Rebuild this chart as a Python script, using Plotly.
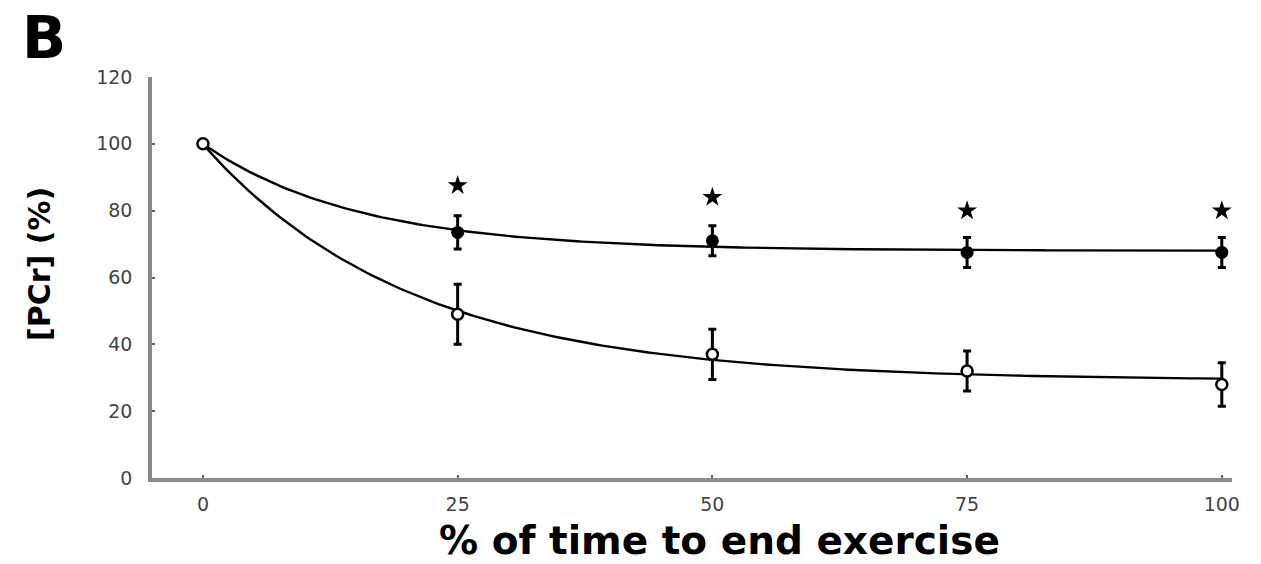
import numpy as np
import plotly.graph_objects as go

time_pct = [0, 25, 50, 75, 100]
pcr_filled = [100, 73.5, 71, 67.5, 67.5]
err_filled = [0, 5, 4.5, 4.5, 4.5]
pcr_open = [100, 49, 37, 32, 28]
err_open = [0, 9, 7.5, 6, 6.5]
star_x = [25, 50, 75, 100]
star_y = [87.5, 84, 80, 80]


def exp_fit(x, y):
    """Least-squares fit of y = a + b*exp(-k x) (the smooth curves of the original figure)."""
    x = np.asarray(x, float)
    y = np.asarray(y, float)
    best = None
    for k in np.linspace(0.005, 0.3, 600):
        A = np.column_stack([np.ones_like(x), np.exp(-k * x)])
        coef, *_ = np.linalg.lstsq(A, y, rcond=None)
        sse = np.sum((A @ coef - y) ** 2)
        if best is None or sse < best[0]:
            best = (sse, k, coef)
    _, k, (a, b) = best
    xs = np.linspace(min(x), max(x), 200)
    return xs, a + b * np.exp(-k * xs)


fx, fy = exp_fit(time_pct, pcr_filled)
ox, oy = exp_fit(time_pct, pcr_open)

fig = go.Figure()
fig.add_trace(go.Scatter(x=fx, y=fy, mode="lines", line=dict(color="black", width=2.4),
                         hoverinfo="skip", showlegend=False))
fig.add_trace(go.Scatter(x=ox, y=oy, mode="lines", line=dict(color="black", width=2.4),
                         hoverinfo="skip", showlegend=False))

fig.add_trace(go.Scatter(x=time_pct[1:], y=pcr_filled[1:], mode="markers",
                         error_y=dict(type="data", array=err_filled[1:], color="black",
                                      thickness=3, width=4),
                         marker=dict(symbol="circle", size=13, color="black"),
                         showlegend=False))
fig.add_trace(go.Scatter(x=time_pct, y=pcr_open, mode="markers",
                         error_y=dict(type="data", array=err_open, color="black",
                                      thickness=3, width=4),
                         marker=dict(symbol="circle", size=11, color="white",
                                     line=dict(color="black", width=2.5)),
                         showlegend=False))

fig.add_trace(go.Scatter(x=star_x, y=star_y, mode="markers",
                         marker=dict(symbol="star", size=15, color="black"),
                         showlegend=False, hoverinfo="skip"))

tick_font = dict(family="DejaVu Sans, Arial, sans-serif", size=19, color="#444444")
title_family = "DejaVu Sans, Arial, sans-serif"

# plot area: x 152..1232 px, y 77..478 px
def px_x(px):
    return (px - 152) / 1080


def px_y(py):
    return (478 - py) / 401


fig.update_layout(
    width=1261, height=564,
    margin=dict(l=152, r=29, t=77, b=86),
    paper_bgcolor="white", plot_bgcolor="white",
    xaxis=dict(range=[-5, 101], tickvals=[0, 25, 50, 75, 100], ticktext=["0", "25", "50", "75", "100"],
               showline=True, linecolor="#8a8a8a", linewidth=3.5, showgrid=False, zeroline=False,
               ticks="inside", ticklen=3, tickcolor="#666666", tickwidth=2,
               tickfont=tick_font, ticklabelstandoff=6),
    yaxis=dict(range=[0, 120], tickvals=[0, 20, 40, 60, 80, 100, 120],
               showline=True, linecolor="#8a8a8a", linewidth=3.5, showgrid=False, zeroline=False,
               ticks="inside", ticklen=3, tickcolor="#666666", tickwidth=2,
               tickfont=tick_font, ticklabelstandoff=12),
    annotations=[
        dict(text="<b>B</b>", xref="paper", yref="paper", x=px_x(20), y=px_y(2),
             xanchor="left", yanchor="top", showarrow=False,
             font=dict(family=title_family, size=58, color="black")),
        dict(text="<b>% of time to end exercise</b>", xref="paper", yref="paper",
             x=px_x(719), y=px_y(540), xanchor="center", yanchor="middle", showarrow=False,
             font=dict(family=title_family, size=39, color="black")),
        dict(text="<b>[PCr] (%)</b>", xref="paper", yref="paper", textangle=-90,
             x=px_x(39), y=px_y(264), xanchor="center", yanchor="middle", showarrow=False,
             font=dict(family=title_family, size=30, color="black")),
    ],
)

fig.write_html("out.html")
